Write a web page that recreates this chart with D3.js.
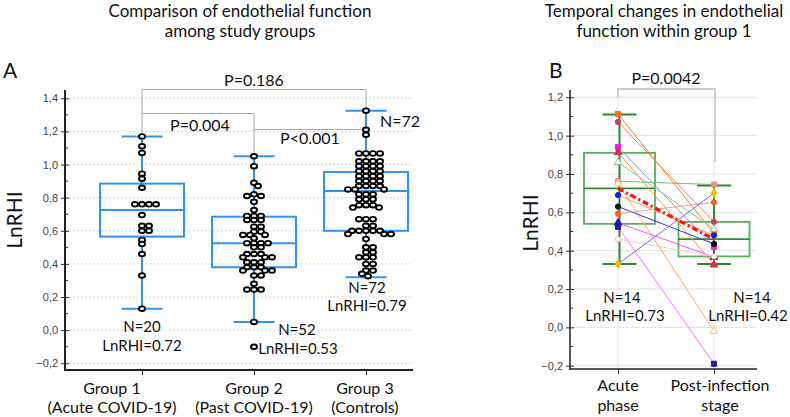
<!DOCTYPE html>
<html><head><meta charset="utf-8">
<script src="https://cdn.jsdelivr.net/npm/d3@7"></script>
<style>body{margin:0;background:#fff}svg{display:block}</style>
</head><body>
<svg id="c" width="790" height="417"></svg>
<script>
// ---------- DATA ----------
const groupsA = ["Group 1", "Group 2", "Group 3"];
const groupSubA = ["(Acute COVID-19)", "(Past COVID-19)", "(Controls)"];
const pointsG1 = [1.17,1.11,1.07,0.945,0.915,0.86,0.76,0.76,0.76,0.76,0.695,0.63,0.63,0.60,0.60,0.545,0.52,0.46,0.33,0.13];
const pointsG2 = [1.05,0.99,0.89,0.87,0.82,0.81,0.81,0.775,0.725,0.69,0.69,0.69,0.665,0.665,0.665,0.625,0.625,0.595,0.595,0.575,0.575,0.575,0.555,0.525,0.525,0.525,0.525,0.50,0.50,0.46,0.46,0.46,0.44,0.44,0.44,0.41,0.41,0.41,0.38,0.38,0.38,0.36,0.36,0.36,0.33,0.33,0.28,0.245,0.245,0.245,0.05,-0.10];
const pointsG3 = [1.325,1.21,1.18,1.067,1.067,1.067,1.067,1.02,1.02,1.02,1.02,0.99,0.99,0.99,0.99,0.96,0.96,0.96,0.96,0.93,0.93,0.93,0.93,0.90,0.90,0.90,0.90,0.87,0.87,0.87,0.87,0.85,0.85,0.85,0.82,0.82,0.82,0.79,0.79,0.79,0.755,0.755,0.755,0.74,0.74,0.67,0.67,0.67,0.63,0.63,0.60,0.60,0.60,0.60,0.60,0.58,0.58,0.58,0.55,0.50,0.50,0.47,0.47,0.44,0.44,0.44,0.40,0.40,0.36,0.36,0.34,0.326];
const q1A = [0.565, 0.38, 0.60];
const medA = [0.725, 0.525, 0.84];
const q3A = [0.885, 0.685, 0.955];
const whLoA = [0.13, 0.05, 0.32];
const whHiA = [1.17, 1.05, 1.325];
const nLabelsA = ["N=20", "N=52", "N=72"];
const meanLabelsA = ["LnRHI=0.72", "LnRHI=0.53", "LnRHI=0.79"];
const pLabelsA = ["P=0.186", "P=0.004", "P<0.001"];
const yTicksA = [-0.2,0,0.2,0.4,0.6,0.8,1.0,1.2,1.4];

const phasesB = ["Acute phase", "Post-infection stage"];
const phaseLinesB = [["Acute","phase"],["Post-infection","stage"]];
const acuteB = [1.113,1.071,0.941,0.913,0.861,0.762,0.75,0.69,0.63,0.593,0.545,0.524,0.46,0.33];
const postB  = [0.49,0.55,0.42,0.327,0.513,0.745,-0.02,0.48,0.435,0.652,0.367,-0.19,0.37,0.70];
const lineColB = ["#ff7b2e","#ff8a3c","#8c8cf0","#ff8a3c","#8cc88c","#78b878","#ffa860","#ff9a50","#3535f5","#e8a0a0","#ff50ff","#ff70ff","#ffc8c8","#6a6af8"];
const markB = ["square","circle","square","triangle","triangle","square","triangle","circle","circle","circle","triangle","square","circle","diamond"];
const markFillB = ["#ff6a28","#c8406a","#ff10ff","#d03050","none","#f08c8c","none","#1818ff","#111111","#ff6020","#2a1aa8","#2a1aa8","none","#f0c000"];
const markStrokeB = ["#ff6a28","#c8406a","#ff10ff","#d03050","#88c488","#f08c8c","#f0d040","#1818ff","#111111","#ff6020","#2a1aa8","#2a1aa8","#ffb8b8","#f0c000"];
const q1B = [0.54, 0.37];
const medB = [0.725, 0.46];
const q3B = [0.91, 0.55];
const whLoB = [0.33, 0.33];
const whHiB = [1.11, 0.74];
const meanB = [0.725, 0.46];
const nLabelsB = ["N=14", "N=14"];
const meanLabelsB = ["LnRHI=0.73", "LnRHI=0.42"];
const pLabelB = "P=0.0042";
const yTicksB = [-0.2,0,0.2,0.4,0.6,0.8,1.0,1.2];

// ---------- DRAW ----------
const svg = d3.select("#c");
const FT = "Lato, 'Open Sans', sans-serif";
const FA = "'Liberation Sans', Arial, sans-serif";
const fmt = v => d3.format(".1f")(v).replace(".", ",");
const LS = 15; // label font size

function txt(x,y,t,size,anchor){ return svg.append("text").attr("x",x).attr("y",y).attr("text-anchor",anchor||"middle").attr("font-family",FT).attr("font-size",size||LS).attr("fill","#111").text(t); }
function pl(pts, col, w){ return svg.append("path").attr("d", d3.line()(pts)).attr("fill","none").attr("stroke",col).attr("stroke-width",w); }

// Titles
function title(x, lines){ lines.forEach((t,i)=> txt(x, 17+i*20, t, 17)); }
title(240, ["Comparison of endothelial function","among study groups"]);
title(664, ["Temporal changes in endothelial","function within group 1"]);
txt(3,78,"A",21,"start");
txt(549,78,"B",21,"start");

// ======== Panel A ========
const yA = d3.scaleLinear().domain([-0.2, 1.4]).range([363.3, 98.3]);
const xA = d3.scalePoint().domain(groupsA).range([142, 366]);
const A_left = 65, A_right = 413, A_top = 90, A_bot = 370;

svg.append("g").selectAll("line").data(yTicksA).join("line")
  .attr("x1",A_left).attr("x2",A_right).attr("y1",d=>yA(d)).attr("y2",d=>yA(d))
  .attr("stroke","#d4d4d4").attr("stroke-dasharray","2,2");

const gAy = svg.append("g").attr("transform",`translate(${A_left},0)`)
  .call(d3.axisLeft(yA).tickValues(yTicksA).tickFormat(fmt).tickSize(4).tickPadding(3));
gAy.select(".domain").remove();
gAy.selectAll("text").attr("font-family",FA).attr("font-size",11).attr("fill","#444");
gAy.selectAll(".tick line").attr("x2",4).attr("x1",-4).attr("stroke","#333");
svg.append("g").selectAll("line").data(d3.range(-0.1,1.4,0.2)).join("line")
  .attr("x1",A_left).attr("x2",A_left+3).attr("y1",d=>yA(d)).attr("y2",d=>yA(d)).attr("stroke","#333");
svg.append("line").attr("x1",A_left).attr("x2",A_left).attr("y1",A_top).attr("y2",A_bot+1).attr("stroke","#222").attr("stroke-width",2);
svg.append("line").attr("x1",A_left).attr("x2",A_right).attr("y1",A_bot).attr("y2",A_bot).attr("stroke","#222").attr("stroke-width",2);
const gAx = svg.append("g").attr("transform",`translate(0,${A_bot})`)
  .call(d3.axisBottom(xA).tickSize(5).tickFormat(""));
gAx.select(".domain").remove();
gAx.selectAll(".tick line").attr("stroke","#333");
const labelShiftA = [-30, 0, -1];
groupsA.forEach((g,i)=>{
  txt(xA(g)+labelShiftA[i], 394, g, 16);
  txt(xA(g)+labelShiftA[i], 413, groupSubA[i], 16);
});
svg.append("text").attr("transform","translate(22,220) rotate(-90)").attr("text-anchor","middle")
  .attr("font-family",FT).attr("font-size",21).attr("fill","#111").text("LnRHI");
svg.append("text").attr("transform","translate(538,223) rotate(-90)").attr("text-anchor","middle")
  .attr("font-family",FT).attr("font-size",21).attr("fill","#111").text("LnRHI");

// brackets A
const gx = groupsA.map(g=>xA(g));
const brk = "#a8a8a8";
pl([[gx[0], yA(whHiA[0])-3],[gx[0],89.5],[gx[2],89.5],[gx[2], yA(whHiA[2])]], brk, 1);
pl([[gx[0],113.5],[gx[1],113.5],[gx[1], yA(whHiA[1])]], brk, 1);
pl([[gx[1],129.5],[gx[2],129.5]], brk, 1);
txt(254,86,pLabelsA[0],16);
txt(200,131,pLabelsA[1],16);
txt(310,144,pLabelsA[2],16);
txt(400,127,"N=72",16);

// boxes A
const blue = "#2f95f0";
groupsA.forEach((g,i)=>{
  const cx = xA(g), bw = 84, cw = 41;
  pl([[cx,yA(whLoA[i])],[cx,yA(q1A[i])]], blue, 2);
  pl([[cx,yA(q3A[i])],[cx,yA(whHiA[i])]], blue, 2);
  pl([[cx-cw/2,yA(whLoA[i])],[cx+cw/2,yA(whLoA[i])]], blue, 2);
  pl([[cx-cw/2,yA(whHiA[i])],[cx+cw/2,yA(whHiA[i])]], blue, 2);
  svg.append("rect").attr("x",cx-bw/2).attr("y",yA(q3A[i])).attr("width",bw).attr("height",yA(q1A[i])-yA(q3A[i]))
    .attr("fill","none").attr("stroke",blue).attr("stroke-width",2);
  pl([[cx-bw/2,yA(medA[i])],[cx+bw/2,yA(medA[i])]], blue, 2);
});

// beeswarm
function swarm(vals, cx, y, w, h){
  const placed = [];
  const sorted = vals.slice().sort((a,b)=>b-a);
  sorted.forEach(v=>{
    const yy = y(v);
    let off = 0;
    for (let k=0;k<60;k++){
      const cands = k===0?[0]:[k,-k];
      let found = null;
      for (const c of cands){
        const ok = placed.every(p=>{ const dx=(p.x-c)/w, dy=(p.y-yy)/h; return dx*dx+dy*dy>=1; });
        if (ok){found=c;break;}
      }
      if (found!==null){off=found;break;}
    }
    placed.push({x:off,y:yy});
  });
  return placed.map(p=>({x:cx+p.x,y:p.y}));
}
[pointsG1,pointsG2,pointsG3].forEach((pts,i)=>{
  const sw = swarm(pts, gx[i], yA, 7, 4);
  svg.append("g").selectAll("ellipse").data(sw).join("ellipse")
    .attr("cx",d=>d.x).attr("cy",d=>d.y).attr("rx",3).attr("ry",2.3)
    .attr("fill","#fff").attr("stroke","#000").attr("stroke-width",1.9);
});

txt(142,332,nLabelsA[0]); txt(142,351,meanLabelsA[0]);
txt(297,335,nLabelsA[1]); txt(298,354,meanLabelsA[1]);
txt(367,293,nLabelsA[2]); txt(367,311,meanLabelsA[2]);

// ======== Panel B ========
const yB = d3.scaleLinear().domain([-0.2, 1.2]).range([365.7, 97.3]);
const xB = d3.scalePoint().domain(phasesB).range([618, 714]);
const B_left = 570, B_right = 757, B_top = 90, B_bot = 369;

svg.append("g").selectAll("line").data(yTicksB).join("line")
  .attr("x1",B_left).attr("x2",B_right).attr("y1",d=>yB(d)).attr("y2",d=>yB(d))
  .attr("stroke","#e2e2e2").attr("stroke-width",1);
svg.append("g").selectAll("line").data(phasesB).join("line")
  .attr("x1",d=>xB(d)).attr("x2",d=>xB(d)).attr("y1",B_top).attr("y2",B_bot)
  .attr("stroke","#e6e6e6").attr("stroke-width",1);

const gBy = svg.append("g").attr("transform",`translate(${B_left},0)`)
  .call(d3.axisLeft(yB).tickValues(yTicksB).tickFormat(fmt).tickSize(4).tickPadding(3));
gBy.select(".domain").remove();
gBy.selectAll("text").attr("font-family",FA).attr("font-size",11).attr("fill","#444");
gBy.selectAll(".tick line").attr("x2",4).attr("x1",-4).attr("stroke","#333");
svg.append("g").selectAll("line").data(d3.range(-0.1,1.2,0.2)).join("line")
  .attr("x1",B_left).attr("x2",B_left+3).attr("y1",d=>yB(d)).attr("y2",d=>yB(d)).attr("stroke","#333");
svg.append("line").attr("x1",B_left).attr("x2",B_left).attr("y1",B_top).attr("y2",B_bot+1).attr("stroke","#222").attr("stroke-width",1.5);
svg.append("line").attr("x1",B_left).attr("x2",B_right).attr("y1",B_bot).attr("y2",B_bot).attr("stroke","#222").attr("stroke-width",1.5);
const gBx = svg.append("g").attr("transform",`translate(0,${B_bot})`)
  .call(d3.axisBottom(xB).tickSize(5).tickFormat(""));
gBx.select(".domain").remove();
gBx.selectAll(".tick line").attr("stroke","#333");
phasesB.forEach((p,i)=>{
  const xx = xB(p) + (i===1?6:0);
  txt(xx,391,phaseLinesB[i][0],16);
  txt(xx,411,phaseLinesB[i][1],16);
});

pl([[xB(phasesB[0]),97],[xB(phasesB[0]),89],[xB(phasesB[1])+1,89],[xB(phasesB[1])+1,162]], "#cccccc", 1.8);
txt(666,84,pLabelB,16);

const green = "#3aa03a";
phasesB.forEach((p,i)=>{
  const cx = xB(p)+(i===0?1.5:0), bw = 71, cw = 34;
  pl([[cx,yB(whLoB[i])],[cx,yB(whHiB[i])]], "#2e8a2e", 2);
  pl([[cx-cw/2,yB(whLoB[i])],[cx+cw/2,yB(whLoB[i])]], "#2e8a2e", 2);
  pl([[cx-cw/2,yB(whHiB[i])],[cx+cw/2,yB(whHiB[i])]], "#2e8a2e", 2);
  svg.append("rect").attr("x",cx-bw/2).attr("y",yB(q3B[i])).attr("width",bw).attr("height",yB(q1B[i])-yB(q3B[i]))
    .attr("fill","none").attr("stroke","#58b058").attr("stroke-width",1.8);
  pl([[cx-bw/2,yB(medB[i])],[cx+bw/2,yB(medB[i])]], "#2e8a2e", 1.6);
});

const xa = xB(phasesB[0]), xp = xB(phasesB[1]);
acuteB.forEach((a,i)=>{ pl([[xa,yB(a)],[xp,yB(postB[i])]], lineColB[i], 1); });
svg.append("line").attr("x1",xa).attr("x2",xp).attr("y1",yB(meanB[0])).attr("y2",yB(meanB[1]))
  .attr("stroke","#ff1010").attr("stroke-width",3.2).attr("stroke-dasharray","6,3,2,3");
const symMap = {square:d3.symbolSquare, circle:d3.symbolCircle, triangle:d3.symbolTriangle, diamond:d3.symbolDiamond};
acuteB.forEach((a,i)=>{
  [[xa,a],[xp,postB[i]]].forEach(([x,v])=>{
    svg.append("path").attr("d", d3.symbol().type(symMap[markB[i]]).size(markB[i]==="circle"?22:26)())
      .attr("transform",`translate(${x},${yB(v)})`)
      .attr("fill", markFillB[i]==="none" ? "#fff" : markFillB[i])
      .attr("stroke", markStrokeB[i]).attr("stroke-width",1);
  });
});

txt(622,303,nLabelsB[0]); txt(625,321,meanLabelsB[0]);
txt(752,303,nLabelsB[1]); txt(748,321,meanLabelsB[1]);
</script>
</body></html>
